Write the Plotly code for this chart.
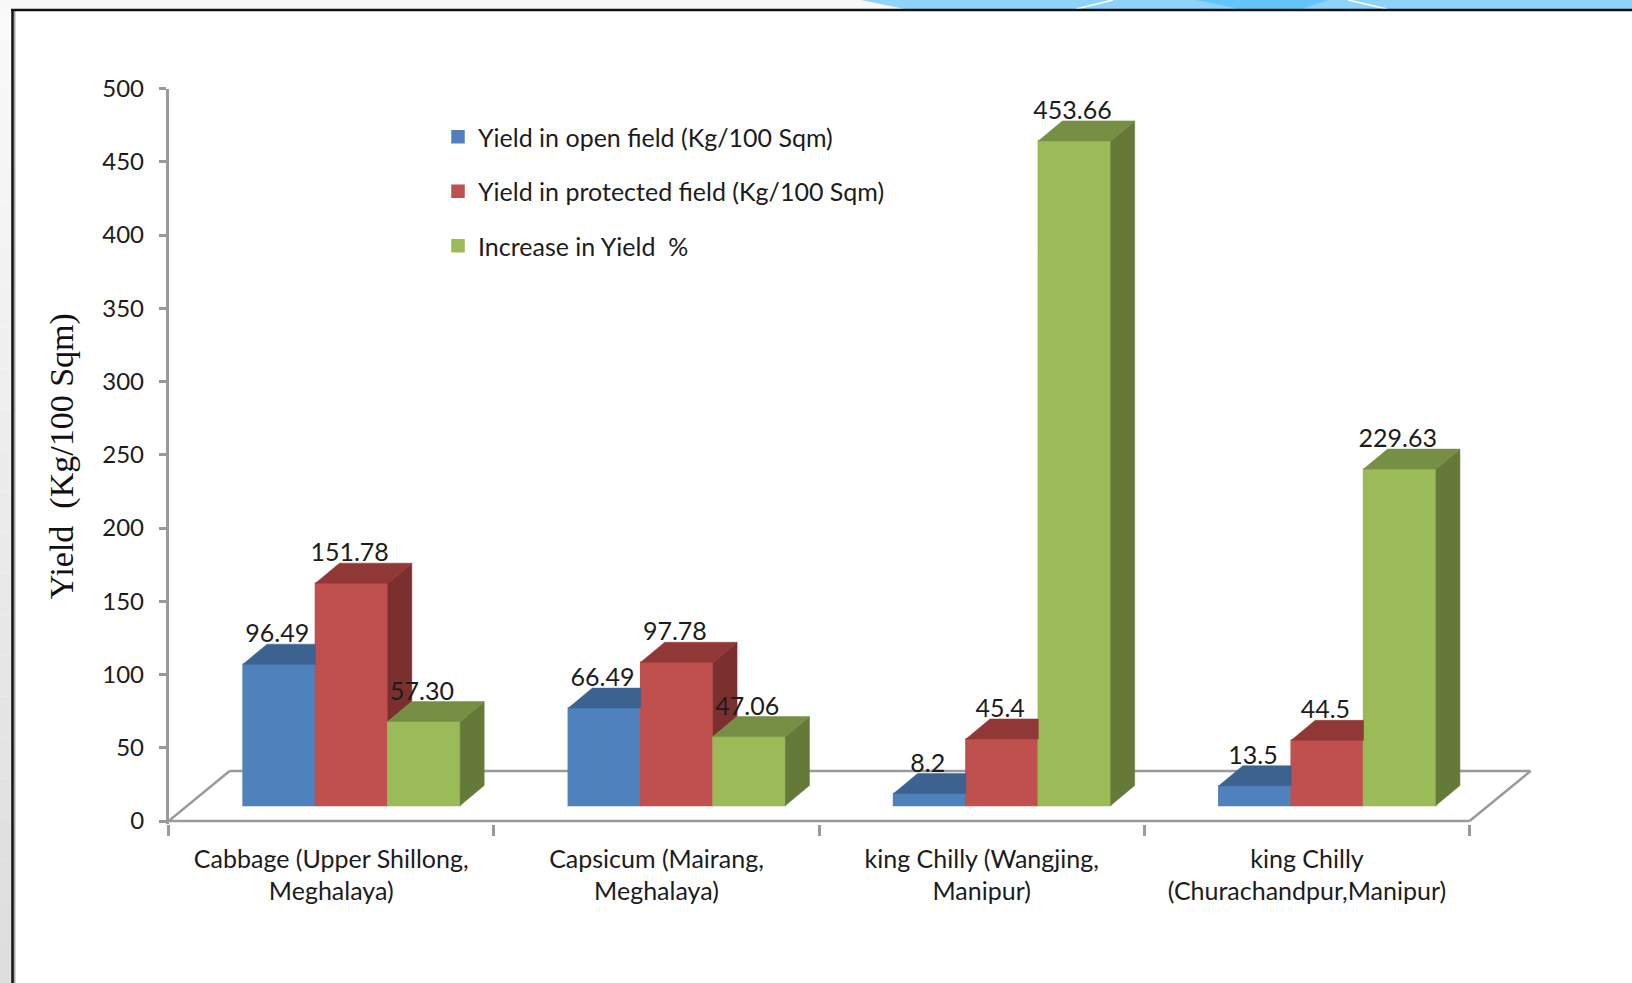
import plotly.graph_objects as go

categories = ["Cabbage (Upper Shillong,<br>Meghalaya)", "Capsicum (Mairang,<br>Meghalaya)",
              "king Chilly (Wangjing,<br>Manipur)", "king Chilly<br>(Churachandpur,Manipur)"]
series_names = ["Yield in open field (Kg/100 Sqm)", "Yield in protected field (Kg/100 Sqm)", "Increase in Yield  %"]
open_field = [96.49, 66.49, 8.2, 13.5]
protected_field = [151.78, 97.78, 45.4, 44.5]
increase = [57.30, 47.06, 453.66, 229.63]
open_labels = ["96.49", "66.49", "8.2", "13.5"]
protected_labels = ["151.78", "97.78", "45.4", "44.5"]
increase_labels = ["57.30", "47.06", "453.66", "229.63"]
y_ticks = [0, 50, 100, 150, 200, 250, 300, 350, 400, 450, 500]

series = [open_field, protected_field, increase]
labels = [open_labels, protected_labels, increase_labels]
front = ["#4F81BD", "#C0504D", "#9BBB59"]
top = ["#3C6290", "#8F3836", "#778F45"]
side = ["#2F4D73", "#7B2F2E", "#657A38"]

W, H = 1632, 983
X0, X1, Y_TOP, Y_ZERO = 168.6, 1469.6, 88.5, 821.0
XMAX = 4.25
YMIN = -2
ppu = (Y_ZERO - Y_TOP) / 500
cat_px = (X1 - X0) / 4

START, BW = 0.229, 0.2225
DX, DY = 24 / cat_px, 20 / ppu
BASE = 15.5 / ppu
LABEL_SHIFT = 2 / cat_px
FLOOR_DX, FLOOR_DY = 61 / cat_px, 50 / ppu
FONT = "Lato, Roboto, sans-serif"
FS = 25
TXT = "#1c1c1c"
AXIS = "#9a9a9a"

fig = go.Figure()
n = len(categories)

for s, vals in enumerate(series):
    xs = [i + START + (s + 0.5) * BW for i in range(n)]
    fig.add_bar(x=xs, y=vals, base=[BASE] * n, width=BW, name=series_names[s], legendgroup=f"g{s}",
                marker=dict(color=front[s], line=dict(color=front[s], width=1.5)), cliponaxis=False)

def face(xp, yp, color):
    fig.add_scatter(x=xp, y=yp, mode="lines", fill="toself", fillcolor=color,
                    line=dict(color=color, width=0.5), showlegend=False, hoverinfo="skip", cliponaxis=False)

for s, vals in enumerate(series):
    nxt = series[s + 1] if s + 1 < len(series) else None
    for i, v in enumerate(vals):
        x0 = i + START + s * BW
        x1 = x0 + BW
        t = BASE + v
        if nxt is None:
            face([x1, x1 + DX, x1 + DX, x1, x1], [BASE, BASE + DY, t + DY, t, BASE], side[s])
            face([x0, x1, x1 + DX, x0 + DX, x0], [t, t, t + DY, t + DY, t], top[s])
        elif nxt[i] < v:
            b = BASE + nxt[i]
            face([x1, x1 + DX, x1 + DX, x1, x1], [b, b + DY, t + DY, t, b], side[s])
            face([x0, x1, x1 + DX, x0 + DX, x0], [t, t, t + DY, t + DY, t], top[s])
        else:
            face([x0, x1, x1, x0 + DX, x0], [t, t, t + DY, t + DY, t], top[s])

for s, vals in enumerate(series):
    fig.add_scatter(x=[i + START + (s + 0.5) * BW - LABEL_SHIFT for i in range(n)],
                    y=[BASE + v + DY - 3 for v in vals],
                    text=labels[s], mode="text", textposition="top center",
                    textfont=dict(family=FONT, size=FS, color=TXT),
                    showlegend=False, hoverinfo="skip", cliponaxis=False)

def px(x): return x / W
def py(y): return 1 - y / H

# slide background: left strip fades from near white at the top to light grey at the bottom
strip = []
STEPS = 24
for k in range(STEPS):
    g = int(250 - (250 - 222) * k / (STEPS - 1))
    strip.append(dict(type="rect", xref="paper", yref="paper", x0=0, x1=px(12),
                      y0=1 - (k + 1) / STEPS, y1=1 - k / STEPS,
                      fillcolor=f"rgb({g},{g},{g})", line_width=0, layer="below"))

shapes = strip + [
    dict(type="rect", xref="paper", yref="paper", x0=0, x1=1, y0=py(9), y1=1, fillcolor="#F8F8F8", line_width=0, layer="below"),
    dict(type="path", xref="paper", yref="paper", layer="below", fillcolor="#8DD3FB", line_width=0,
         path=f"M{px(861)},1 L{px(905)},{py(9)} L1,{py(9)} L1,1 Z"),
    dict(type="path", xref="paper", yref="paper", layer="below", fillcolor="#63C5FA", line_width=0,
         path=f"M{px(1196)},1 L{px(1240)},{py(9)} L{px(1302)},{py(9)} L{px(1328)},1 Z"),
    dict(type="line", xref="paper", yref="paper", layer="below", x0=px(1076), y0=py(9), x1=px(1113), y1=1, line=dict(color="#FFFFFF", width=1.5)),
    dict(type="line", xref="paper", yref="paper", layer="below", x0=px(1348), y0=1, x1=px(1387), y1=py(9), line=dict(color="#FFFFFF", width=1.5)),
    dict(type="line", xref="paper", yref="paper", layer="below", x0=px(14.5), x1=px(14.5), y0=0, y1=py(10), line=dict(color="#A8A8A8", width=2)),
    dict(type="line", xref="paper", yref="paper", layer="below", x0=px(12.5), x1=px(12.5), y0=0, y1=py(9), line=dict(color="#111111", width=2.5)),
    dict(type="line", xref="paper", yref="paper", layer="below", x0=px(11), x1=1, y0=py(10), y1=py(10), line=dict(color="#111111", width=2.5)),
    # floor of the pseudo-3D plot
    dict(type="line", x0=0, y0=0, x1=4, y1=0, layer="below", line=dict(color=AXIS, width=2.5)),
    dict(type="line", x0=0, y0=0, x1=FLOOR_DX, y1=FLOOR_DY, layer="below", line=dict(color=AXIS, width=2.5)),
    dict(type="line", x0=FLOOR_DX, y0=FLOOR_DY, x1=4 + FLOOR_DX, y1=FLOOR_DY, layer="below", line=dict(color=AXIS, width=2.5)),
    dict(type="line", x0=4, y0=0, x1=4 + FLOOR_DX, y1=FLOOR_DY, layer="below", line=dict(color=AXIS, width=2.5)),
]

fig.update_layout(
    width=W, height=H, margin=dict(l=0, r=0, t=0, b=0),
    paper_bgcolor="#FFFFFF", plot_bgcolor="rgba(0,0,0,0)",
    barmode="overlay", shapes=shapes, hovermode=False,
    font=dict(family=FONT, size=FS, color=TXT),
    legend=dict(x=px(438), y=py(114), xanchor="left", yanchor="top",
                bgcolor="rgba(0,0,0,0)", tracegroupgap=19, font=dict(family=FONT, size=FS, color=TXT)),
    xaxis=dict(automargin=False, domain=[px(X0), px(X0 + XMAX * cat_px)], range=[0, XMAX], showgrid=False, zeroline=False,
               showline=False, tickmode="array", tickvals=[i + 0.5 for i in range(n)], ticktext=categories,
               ticks="", ticklabelstandoff=18,
               minor=dict(tickmode="array", tickvals=list(range(n + 1)), ticks="outside", ticklen=11,
                          tickwidth=2.5, tickcolor=AXIS, showgrid=False),
               tickfont=dict(family=FONT, size=FS, color=TXT)),
    yaxis=dict(automargin=False, domain=[py(Y_ZERO + (-YMIN) * ppu), py(Y_TOP)], range=[YMIN, 500], showgrid=False, zeroline=False,
               showline=True, linecolor=AXIS, linewidth=2.5, tickmode="array", tickvals=y_ticks,
               ticks="outside", ticklen=7, tickwidth=2.5, tickcolor=AXIS, ticklabelstandoff=10,
               tickfont=dict(family=FONT, size=24, color=TXT),
               title=dict(text="Yield  (Kg/100 Sqm)", standoff=19,
                          font=dict(family="Liberation Serif, serif", size=34, color="#111111"))),
)

fig.write_html("out.html", config=dict(displayModeBar=False),
               post_script="document.body.style.margin='0';document.body.style.overflow='hidden';")
